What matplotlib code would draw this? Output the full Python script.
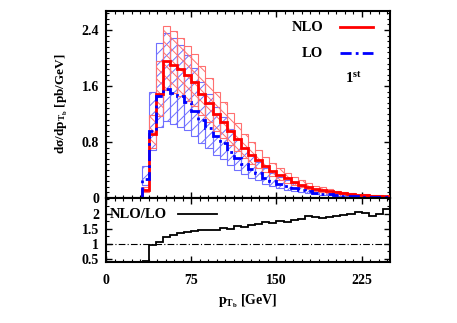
import numpy as np
import matplotlib
matplotlib.use("Agg")
import matplotlib.pyplot as plt
from matplotlib.ticker import MultipleLocator

plt.rcParams['font.family'] = ['Liberation Serif', 'DejaVu Serif']
plt.rcParams['font.weight'] = 'bold'
plt.rcParams['mathtext.fontset'] = 'custom'
plt.rcParams['mathtext.rm'] = 'Liberation Serif:bold'
plt.rcParams['mathtext.it'] = 'Liberation Serif:italic:bold'
plt.rcParams['mathtext.bf'] = 'Liberation Serif:bold'
plt.rcParams['mathtext.default'] = 'rm'
plt.rcParams['hatch.linewidth'] = 0.7

# ---- data (bins of 6.25 GeV starting at 31.25 GeV) ----
bin_width = 6.25
bin_start = 31.25
nlo = [0.11, 0.92, 1.49, 1.96, 1.90, 1.84, 1.76, 1.65, 1.49, 1.36, 1.20, 1.08, 0.96, 0.84,
       0.72, 0.62, 0.54, 0.46, 0.39, 0.33, 0.28, 0.23, 0.19, 0.16, 0.135, 0.115, 0.095,
       0.08, 0.067, 0.056, 0.047, 0.04, 0.034, 0.029, 0.025]
nlo_up = [0.16, 1.18, 1.95, 2.46, 2.39, 2.29, 2.17, 2.05, 1.88, 1.72, 1.52, 1.37, 1.22, 1.07,
          0.92, 0.80, 0.69, 0.59, 0.50, 0.43, 0.36, 0.30, 0.25, 0.21, 0.175, 0.15, 0.125,
          0.105, 0.088, 0.074, 0.062, 0.053, 0.045, 0.038, 0.033]
nlo_lo = [0.08, 0.72, 1.17, 1.54, 1.50, 1.45, 1.39, 1.31, 1.18, 1.08, 0.95, 0.86, 0.76, 0.67,
          0.57, 0.49, 0.43, 0.365, 0.31, 0.26, 0.22, 0.18, 0.15, 0.127, 0.107, 0.091, 0.075,
          0.063, 0.053, 0.044, 0.037, 0.032, 0.027, 0.023, 0.02]
lo = [0.27, 0.95, 1.45, 1.55, 1.50, 1.45, 1.37, 1.24, 1.12, 1.00, 0.88, 0.78, 0.66, 0.57,
      0.48, 0.41, 0.35, 0.29, 0.245, 0.205, 0.17, 0.14, 0.115, 0.094, 0.077, 0.064, 0.052,
      0.043, 0.035, 0.029, 0.024, 0.020, 0.017, 0.014, 0.012]
lo_up = [0.45, 1.52, 2.22, 2.36, 2.28, 2.18, 2.04, 1.85, 1.66, 1.48, 1.30, 1.15, 0.98, 0.84,
         0.71, 0.61, 0.52, 0.43, 0.36, 0.30, 0.25, 0.21, 0.17, 0.14, 0.115, 0.095, 0.078,
         0.064, 0.052, 0.043, 0.036, 0.030, 0.025, 0.021, 0.018]
lo_lo = [0.19, 0.68, 1.02, 1.10, 1.06, 1.02, 0.97, 0.88, 0.79, 0.71, 0.62, 0.55, 0.47, 0.40,
         0.34, 0.29, 0.25, 0.205, 0.173, 0.145, 0.12, 0.099, 0.081, 0.066, 0.054, 0.045, 0.037,
         0.030, 0.025, 0.020, 0.017, 0.014, 0.012, 0.010, 0.0085]
ratio = [0.43, 0.95, 1.05, 1.22, 1.30, 1.36, 1.40, 1.43, 1.46, 1.48, 1.47, 1.52, 1.50, 1.60,
         1.58, 1.63, 1.65, 1.74, 1.71, 1.76, 1.74, 1.81, 1.83, 1.92, 1.89, 1.86, 1.90, 1.93,
         1.96, 2.00, 2.08, 2.02, 1.92, 2.01, 2.17]
x_ticks = [0, 75, 150, 225]
y_ticks_top = [0, 0.8, 1.6, 2.4]
y_ticks_bot = [0.5, 1, 1.5, 2]

n = len(nlo)
edges = bin_start + bin_width * np.arange(n + 1)
centers = 0.5 * (edges[:-1] + edges[1:])

W, H = 457, 323
fig = plt.figure(figsize=(W / 100, H / 100), dpi=100)
L, R = 106 / W, 390 / W
ax = fig.add_axes([L, 1 - 198 / H, R - L, (198 - 11) / H])
axr = fig.add_axes([L, 1 - 262 / H, R - L, (262 - 198) / H])

light_red = '#ff7070'
light_blue = '#7070ff'

nlo_a, nlo_up_a, nlo_lo_a = map(np.array, (nlo, nlo_up, nlo_lo))
lo_a, lo_up_a, lo_lo_a = map(np.array, (lo, lo_up, lo_lo))

ax.bar(centers, lo_up_a - lo_lo_a, bottom=lo_lo_a, width=bin_width, fill=True,
       facecolor='none', edgecolor=light_blue, hatch='///', linewidth=0.8, zorder=2)
ax.bar(centers, nlo_up_a - nlo_lo_a, bottom=nlo_lo_a, width=bin_width, fill=True,
       facecolor='none', edgecolor=light_red, hatch='\\\\\\', linewidth=0.8, zorder=2)
ax.stairs(lo_a, edges, baseline=0, color='#0000ff', linewidth=2.0, linestyle=(0, (4, 1.5, 1, 1.5)), zorder=4)
ax.stairs(nlo_a, edges, baseline=0, color='#ff0000', linewidth=2.0, zorder=3)

ax.set_xlim(0, 250)
ax.set_ylim(0, 2.67)
ax.set_xticks(x_ticks)
ax.set_xticklabels([])
ax.set_yticks(y_ticks_top)
ax.set_yticklabels(['0', '0.8', '1.6', '2.4'])
ax.xaxis.set_minor_locator(MultipleLocator(7.5))
ax.yaxis.set_minor_locator(MultipleLocator(0.08))

axr.stairs(ratio, edges, baseline=None, color='black', linewidth=1.3)
axr.axhline(1.0, color='black', linewidth=0.8, linestyle=(0, (6, 2, 1, 2)))
axr.set_xlim(0, 250)
axr.set_ylim(0.4, 2.53)
axr.set_xticks(x_ticks)
axr.set_yticks(y_ticks_bot)
axr.set_yticklabels(['0.5', '1', '1.5', '2'])
axr.xaxis.set_minor_locator(MultipleLocator(7.5))
axr.yaxis.set_minor_locator(MultipleLocator(0.25))

for a in (ax, axr):
    a.tick_params(which='both', direction='in', top=True, right=True, labelsize=10, pad=5)
    a.tick_params(which='major', length=4, width=1.0)
    a.tick_params(which='minor', length=2, width=0.8)
    for s in a.spines.values():
        s.set_linewidth(1.5)
axr.tick_params(axis='x', pad=9)

# legend (manual, gnuplot style)
ax.text(0.764, 0.914, 'NLO', transform=ax.transAxes, ha='right', va='center', fontsize=10.5)
ax.plot([0.824, 0.940], [0.914, 0.914], transform=ax.transAxes, color='#ff0000', linewidth=2.0)
ax.text(0.764, 0.775, 'LO', transform=ax.transAxes, ha='right', va='center', fontsize=10.5)
ax.plot([0.824, 0.940], [0.775, 0.775], transform=ax.transAxes, color='#0000ff', linewidth=2.0,
        linestyle=(0, (4, 1.5, 1, 1.5)))
ax.text(0.87, 0.642, r'1$^{\mathrm{st}}$', transform=ax.transAxes, ha='center', va='center', fontsize=10.5)

axr.text(0.014, 0.75, 'NLO/LO', transform=axr.transAxes, ha='left', va='center', fontsize=10.5)
axr.plot([0.254, 0.39], [0.75, 0.75], transform=axr.transAxes, color='black', linewidth=1.3)

fig.text(62 / W, 1 - 104 / H, r'd$\sigma$/dp$_{\mathrm{T_b}}$ [pb/GeV]', rotation=90,
         ha='center', va='center', fontsize=9.5)
fig.text(248 / W, 1 - 301 / H, r'p$_{\mathrm{T_b}}$ [GeV]', ha='center', va='center', fontsize=10)

fig.savefig('out.png', dpi=100)
